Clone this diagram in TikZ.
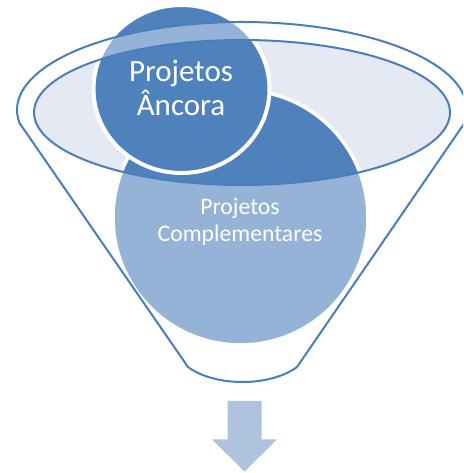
\documentclass[tikz,border=0pt]{standalone}
\usepackage{fontspec}
\setmainfont{Carlito}
\usetikzlibrary{shapes.geometric}
\definecolor{accent}{HTML}{4F81BD}
\definecolor{rimline}{HTML}{4A7EBB}
\definecolor{innerfill}{HTML}{E4E9F3}
\definecolor{arrowfill}{HTML}{B0C3DE}
\tikzset{
  circlabel/.style={text=white, align=center, inner sep=0pt},
  funnelline/.style={draw=rimline, line width=2pt},
}
\begin{document}
\begin{tikzpicture}[x=1pt,y=1pt]
\useasboundingbox (0,0) rectangle (463,473);
\clip (0,0) rectangle (463,473);
\fill[white] (0,0) rectangle (463,473);
% opening of the funnel
\fill[innerfill] (242,360.5) ellipse [x radius=208, y radius=72.5];
% circles
\node[circle, fill=accent, draw=white, line width=3.5pt, minimum size=255pt, inner sep=0pt] (comp) at (240.5,255.5) {};
\node[ellipse, fill=accent, draw=white, line width=4pt, minimum width=176pt, minimum height=168pt, inner sep=0pt] (anc) at (181.5,384) {};
% translucent funnel body
\fill[white, fill opacity=0.4, even odd rule]
  (19.5,350) arc[start angle=188.5, end angle=-8.5, x radius=225, y radius=88]
  -- (297,106) .. controls (270,86) and (215,86) .. (188,106) -- cycle
  (242,360.5) ellipse [x radius=208, y radius=72.5];
% outlines
\path[funnelline]
  (19.5,350) arc[start angle=188.5, end angle=-8.5, x radius=225, y radius=88]
  -- (297,106) .. controls (270,86) and (215,86) .. (188,106) -- cycle;
\path[funnelline] (242,360.5) ellipse [x radius=208, y radius=72.5];
% labels
\node[circlabel, font=\fontsize{31}{34}\selectfont] (anctext) at (181,385.5) {Projetos\\Âncora};
\node[circlabel, font=\fontsize{23.7}{26.7}\selectfont] (comptext) at (240,251.3) {Projetos\\Complementares};
% arrow
\fill[arrowfill] (227.5,72) -- (261.5,72) -- (261.5,33.7) -- (277,33.7) -- (244.5,1.3) -- (212,33.7) -- (227.5,33.7) -- cycle;
\end{tikzpicture}
\end{document}
